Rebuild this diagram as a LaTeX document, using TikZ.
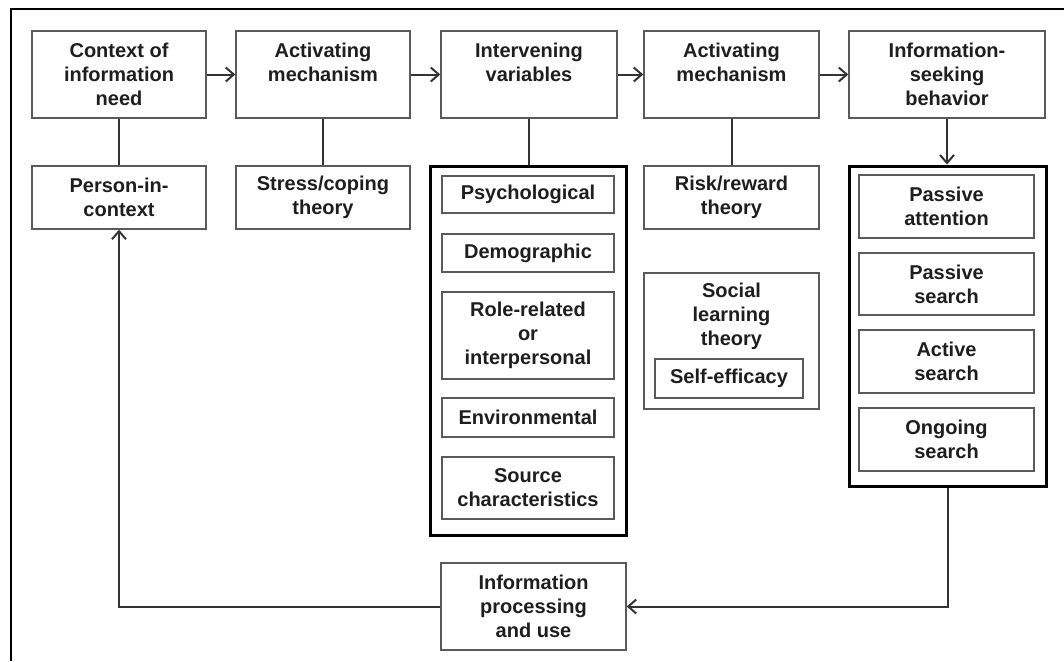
\documentclass[tikz,border=0pt]{standalone}
\usepackage{fontspec}
\setmainfont{Liberation Sans}
\usepackage{tikz}
\usetikzlibrary{arrows.meta}
\definecolor{boxgray}{HTML}{5A5A5A}
\definecolor{linegray}{HTML}{333333}
\definecolor{txtgray}{HTML}{1E1E1E}

\begin{document}
\begin{tikzpicture}[x=1pt,y=-1pt,
		box/.style={draw=boxgray,line width=1.4pt,align=center,inner sep=0pt,text=txtgray,
			font=\fontsize{20}{24}\selectfont\bfseries},
		bigbox/.style={draw=black,line width=3pt,inner sep=0pt},
		txt/.style={align=center,inner sep=0pt,text=txtgray,font=\fontsize{20}{24}\selectfont\bfseries},
		link/.style={draw=linegray,line width=2pt},
		>={Straight Barb[length=8pt,width=14pt,line width=2pt]}]
		\useasboundingbox (0,0) rectangle (1064,661);
		\draw[line width=2pt] (11,661)--(11,9)--(1064,9);
		% top row
		\node[box,minimum width=174,minimum height=87] (ctx) at (119,74.5) {Context of\\information\\need};
		\node[box,minimum width=174,minimum height=87] (actA) at (323,74.5) {Activating\\mechanism\\~};
		\node[box,minimum width=176,minimum height=87] (intv) at (529,74.5) {Intervening\\variables\\~};
		\node[box,minimum width=175,minimum height=87] (actB) at (731.5,74.5) {Activating\\mechanism\\~};
		\node[box,minimum width=196,minimum height=87] (isb) at (947,74.5) {Information-\\seeking\\behavior};
		\draw[link,->] (ctx)--(actA);
		\draw[link,->] (actA)--(intv);
		\draw[link,->] (intv)--(actB);
		\draw[link,->] (actB)--(isb);
		% second row
		\node[box,minimum width=174,minimum height=63] (pic) at (119,197.5) {Person-in-\\context};
		\node[box,minimum width=174,minimum height=63] (stress) at (323,197.5) {Stress/coping\\theory};
		\node[box,minimum width=175,minimum height=63] (risk) at (731.5,197.5) {Risk/reward\\theory};
		% intervening variables
		\node[bigbox,minimum width=196,minimum height=369] (vars) at (528,350.5) {};
		\node[box,minimum width=172,minimum height=37] (psy) at (528,194.5) {Psychological};
		\node[box,minimum width=172,minimum height=38] (demo) at (528,253) {Demographic};
		\node[box,minimum width=172,minimum height=87] (role) at (528,335.5) {Role-related\\or\\interpersonal};
		\node[box,minimum width=172,minimum height=39] (env) at (528,417.5) {Environmental};
		\node[box,minimum width=172,minimum height=62] (src) at (528,488) {Source\\characteristics};
		% social learning
		\node[box,minimum width=175,minimum height=136] (slt) at (731.5,341) {};
		\node[txt] (sltlabel) at (731.5,316) {Social\\learning\\theory};
		\node[box,minimum width=148,minimum height=39] (selfeff) at (729,378.5) {Self-efficacy};
		% information-seeking behavior
		\node[bigbox,minimum width=197,minimum height=320] (seek) at (947.5,326) {};
		\node[box,minimum width=175,minimum height=63] (pattn) at (946.5,206.5) {Passive\\attention};
		\node[box,minimum width=175,minimum height=62] (psrch) at (946.5,284) {Passive\\search};
		\node[box,minimum width=175,minimum height=63] (asrch) at (946.5,361.5) {Active\\search};
		\node[box,minimum width=175,minimum height=63] (osrch) at (946.5,439.5) {Ongoing\\search};
		% processing
		\node[box,minimum width=185,minimum height=87] (proc) at (533.5,606.5) {Information\\processing\\and use};
		% links
		\draw[link] (ctx)--(pic);
		\draw[link] (actA)--(stress);
		\draw[link] (intv.south)--(intv.south|-vars.north);
		\draw[link] (actB)--(risk);
		\draw[link,->] (isb.south)--(isb.south|-seek.north);
		\draw[link,->] (seek.south)|-(proc.east);
		\draw[link,->] (proc.west)-|(pic.south);
\end{tikzpicture}
\end{document}
